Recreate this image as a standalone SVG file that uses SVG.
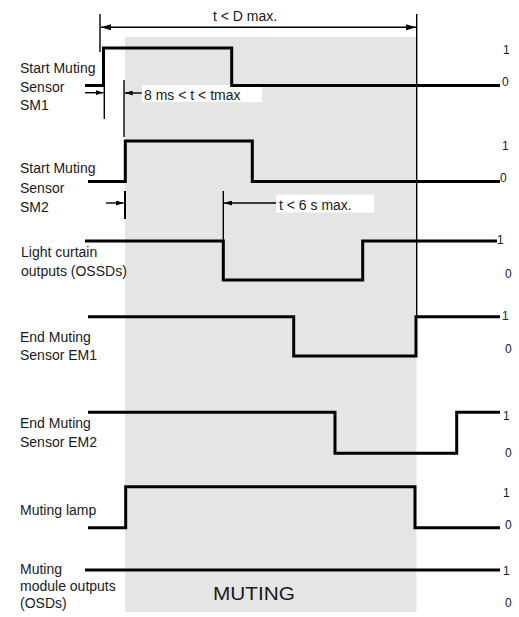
<svg xmlns="http://www.w3.org/2000/svg" width="519" height="617" viewBox="0 0 519 617">
<defs>
<style>
.sig{fill:none;stroke:#000;stroke-width:3;stroke-linejoin:miter;stroke-linecap:butt}
.thin{fill:none;stroke:#000;stroke-width:1.4}
.lbl{font-family:"Liberation Sans",Arial,sans-serif;font-size:14px;fill:#1a1a1a}
.lv{font-family:"Liberation Sans",Arial,sans-serif;font-size:12px;fill:#1a1a1a}
.box{fill:#fff}
</style>
<marker id="ah" viewBox="0 0 10 6" refX="10" refY="3" markerWidth="10" markerHeight="6" markerUnits="userSpaceOnUse" orient="auto-start-reverse"><path d="M0,0 L10,3 L0,6 z" fill="#000"/></marker>
<marker id="ahs" viewBox="0 0 8 5" refX="8" refY="2.5" markerWidth="8" markerHeight="5" markerUnits="userSpaceOnUse" orient="auto-start-reverse"><path d="M0,0 L8,2.5 L0,5 z" fill="#000"/></marker>
</defs>
<rect x="0" y="0" width="519" height="617" fill="#fff"/>
<g id="muting-zone">
<rect x="125" y="37" width="291.5" height="575" fill="#e5e5e5"/>
<text x="213" y="600" class="lbl" style="font-size:18px" textLength="82" lengthAdjust="spacingAndGlyphs">MUTING</text>
</g>
<g id="connectors">
<rect class="box" x="142" y="85" width="120" height="17"/>
<rect class="box" x="276" y="194.5" width="98" height="18"/>
<line class="thin" x1="100" y1="14" x2="100" y2="52"/>
<line class="thin" x1="416.7" y1="14" x2="416.7" y2="317"/>
<line class="thin" x1="104.3" y1="86" x2="104.3" y2="119"/>
<line class="thin" x1="124" y1="80" x2="124" y2="137"/>
<line class="thin" style="stroke-width:2" x1="125" y1="191" x2="125" y2="219"/>
<line class="thin" x1="223.3" y1="191" x2="223.3" y2="241"/>
<line class="thin" x1="101" y1="27.3" x2="416" y2="27.3" marker-start="url(#ah)" marker-end="url(#ah)"/>
<line class="thin" x1="85" y1="92.7" x2="103.5" y2="92.7" marker-end="url(#ahs)"/>
<line class="thin" x1="141.7" y1="93" x2="124.7" y2="93" marker-end="url(#ahs)"/>
<line class="thin" x1="106" y1="203" x2="123.7" y2="203" marker-end="url(#ahs)"/>
<line class="thin" x1="276" y1="203" x2="224" y2="203" marker-end="url(#ahs)"/>
<text x="213" y="20.5" class="lbl">t  &lt; D max.</text>
<text x="144" y="100" class="lbl">8 ms &lt; t &lt; tmax</text>
<text x="279" y="210" class="lbl">t &lt; 6 s max.</text>
</g>
<g id="sm1">
<path class="sig" d="M85,85.5 H103.5 V48 H231.7 V85.5 H500"/>
<text class="lbl" x="20" y="72.5">Start Muting</text>
<text class="lbl" x="20" y="91.5">Sensor</text>
<text class="lbl" x="20" y="110">SM1</text>
<text class="lv" x="503" y="54">1</text>
<text class="lv" x="502" y="86">0</text>
</g>
<g id="sm2">
<path class="sig" d="M88,181.5 H125.3 V141 H252.3 V181.5 H500"/>
<text class="lbl" x="20" y="172.5">Start Muting</text>
<text class="lbl" x="20" y="192.5">Sensor</text>
<text class="lbl" x="20" y="211.7">SM2</text>
<text class="lv" x="502" y="150">1</text>
<text class="lv" x="500" y="182">0</text>
</g>
<g id="light-curtain">
<path class="sig" d="M85,241 H223.3 V280 H362.7 V241 H497"/>
<text class="lbl" x="21" y="256.7">Light curtain</text>
<text class="lbl" x="21" y="276">outputs (OSSDs)</text>
<text class="lv" x="497" y="244">1</text>
<text class="lv" x="505" y="278">0</text>
</g>
<g id="em1">
<path class="sig" d="M88,316.7 H293.7 V356 H416 V316.7 H500"/>
<text class="lbl" x="20" y="341.5">End Muting</text>
<text class="lbl" x="20" y="359.5">Sensor EM1</text>
<text class="lv" x="502" y="320">1</text>
<text class="lv" x="505" y="353">0</text>
</g>
<g id="em2">
<path class="sig" d="M88,412.3 H335 V453.3 H456.7 V412.3 H500"/>
<text class="lbl" x="20" y="428.3">End Muting</text>
<text class="lbl" x="20" y="446.7">Sensor EM2</text>
<text class="lv" x="503" y="420">1</text>
<text class="lv" x="505" y="457">0</text>
</g>
<g id="muting-lamp">
<path class="sig" d="M88,527.7 H125.7 V486.7 H415 V527.7 H500"/>
<text class="lbl" x="20" y="515">Muting lamp</text>
<text class="lv" x="503" y="497">1</text>
<text class="lv" x="505" y="528.5">0</text>
</g>
<g id="module-outputs">
<path class="sig" d="M85,570 H500"/>
<text class="lbl" x="20" y="574">Muting</text>
<text class="lbl" x="20" y="591">module outputs</text>
<text class="lbl" x="20" y="608">(OSDs)</text>
<text class="lv" x="503" y="575">1</text>
<text class="lv" x="505" y="607">0</text>
</g>
</svg>
